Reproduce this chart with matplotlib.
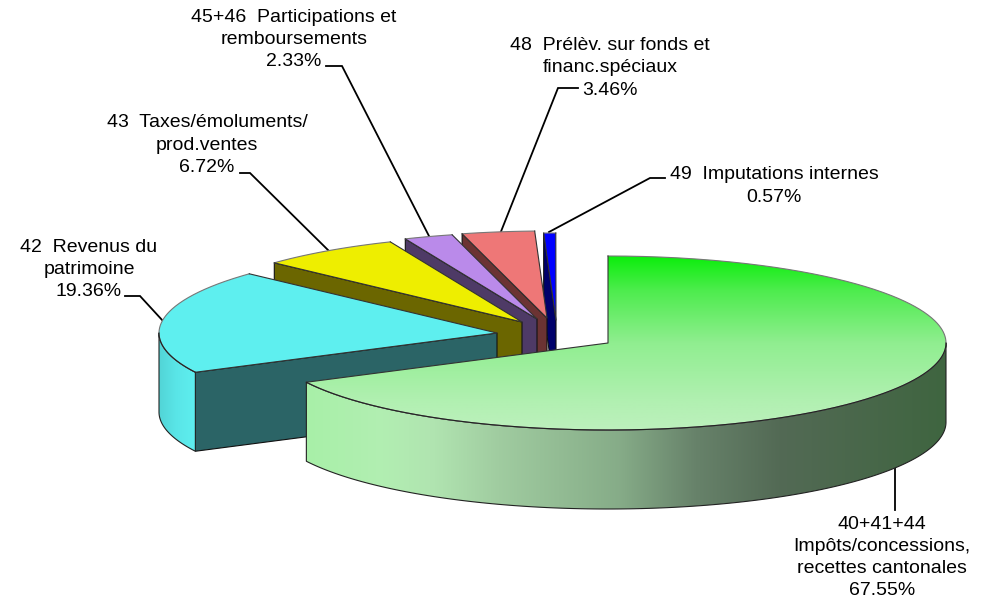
import numpy as np
import matplotlib
matplotlib.use('Agg')
import matplotlib.pyplot as plt
from matplotlib.colors import LinearSegmentedColormap
from matplotlib.patches import Polygon

plt.rcParams['font.family'] = ['Liberation Sans', 'DejaVu Sans']

# Chart data, clockwise from 12 o'clock
codes = ['40+41+44', '42', '43', '45+46', '48', '49']
shares = [67.55, 19.36, 6.72, 2.33, 3.46, 0.57]
labels = [
    '40+41+44\nImpôts/concessions,\nrecettes cantonales\n67.55%',
    '42  Revenus du\npatrimoine\n19.36%',
    '43  Taxes/émoluments/\nprod.ventes\n6.72%',
    '45+46  Participations et\nremboursements\n2.33%',
    '48  Prélèv. sur fonds et\nfinanc.spéciaux\n3.46%',
    '49  Imputations internes\n0.57%',
]
top_colors = ['#0CEE0C', '#5EEFEF', '#EEEE00', '#BA8AEA', '#EE7777', '#0000FF']
cut_colors = ['#4A6A4E', '#2B6466', '#6B6600', '#4E3A66', '#6B3333', '#00006B']

# Layout in reference pixels
apex_x = [608, 497, 522, 537, 547, 556]
apex_y = [343, 333, 322, 319, 318, 320]
label_x = [882, 89, 207, 294, 610, 774]
label_y = [557.5, 269.5, 145, 39.5, 68, 186]
leaders = [
    [(895, 467), (895, 510)],
    [(125, 296), (140, 296), (163, 321)],
    [(240, 173), (250, 173), (329, 251)],
    [(326, 66), (342, 66), (430, 238)],
    [(578, 88), (558, 88), (500, 234)],
    [(665, 178), (650, 178), (549, 232)],
]
RX, RY, DEPTH = 338, 87, 79

WIDTH, HEIGHT = 989, 604
fig = plt.figure(figsize=(WIDTH / 100, HEIGHT / 100), dpi=100)
ax = fig.add_axes([0, 0, 1, 1])


def arc(cx, cy, start, end):
    """Points of the ellipse rim between two clockwise angles (degrees from top)."""
    n = max(int(abs(end - start)) * 2, 2)
    a = np.radians(np.linspace(start, end, n))
    return np.column_stack([cx + RX * np.sin(a), cy - RY * np.cos(a)])


def gradient_fill(points, stops, horizontal, zorder):
    """Polygon filled with a linear gradient, drawn as a clipped image."""
    x0, y0 = points.min(axis=0)
    x1, y1 = points.max(axis=0)
    cmap = LinearSegmentedColormap.from_list('fill', stops)
    ramp = np.linspace(0, 1, 256)
    grid = ramp[None, :] if horizontal else ramp[:, None]
    im = ax.imshow(grid, cmap=cmap, vmin=0, vmax=1, aspect='auto', origin='upper',
                   extent=(x0, x1, y1, y0), zorder=zorder, interpolation='bilinear')
    clip = Polygon(points, closed=True, transform=ax.transData, fc='none', ec='none')
    ax.add_patch(clip)
    im.set_clip_path(clip)


def draw_slice(i, start, end, z):
    cx, cy = apex_x[i], apex_y[i]
    rim = arc(cx, cy, start, end)

    # Cut face on the left-hand side of the slice
    if start > 180:
        face = np.array([rim[0], (cx, cy), (cx, cy + DEPTH), rim[0] + (0, DEPTH)])
        ax.add_patch(Polygon(face, closed=True, fc=cut_colors[i], ec='#111111', lw=0.8, zorder=z))

    # Outer wall where the rim faces the viewer
    w0, w1 = max(start, 90), min(end, 270)
    if w1 > w0:
        wall_top = arc(cx, cy, w0, w1)
        wall = np.vstack([wall_top, (wall_top + (0, DEPTH))[::-1]])
        if i == 0:
            # gradient runs left to right across the x range of the wall
            stops = [(0, '#A8F0A8'), (0.12, '#B2EEB2'), (0.2, '#B0E4B0'), (0.3, '#A0CCA0'),
                     (0.49, '#86AC88'), (0.61, '#67826A'), (0.74, '#536A55'), (1, '#3F6540')]
        else:
            stops = [(0, '#52D4D6'), (0.5, '#5AE6E8'), (1, '#5EEFEF')]
        gradient_fill(wall, stops, True, z + 0.1)
        ax.add_patch(Polygon(wall, closed=True, fc='none', ec='#222222', lw=0.8, zorder=z + 0.2))

    # Top face
    top = np.vstack([[(cx, cy)], rim])
    if i == 0:
        gradient_fill(top, [(0, top_colors[0]), (0.2, '#4EEC4E'), (0.5, '#90EE90'),
                            (0.82, '#B0F0B0'), (1, '#BDF0BD')], False, z + 0.3)
    else:
        ax.add_patch(Polygon(top, closed=True, fc=top_colors[i], ec='none', zorder=z + 0.3))
    ax.plot(rim[:, 0], rim[:, 1], color='#777777', lw=0.8, zorder=z + 0.4)
    if w1 > w0:
        front = arc(cx, cy, w0, w1)
        ax.plot(front[:, 0], front[:, 1], color='#222222', lw=0.8, zorder=z + 0.45)
    ax.plot([rim[0, 0], cx, rim[-1, 0]], [rim[0, 1], cy, rim[-1, 1]],
            color='#333333', lw=0.8, zorder=z + 0.4)


# Angles come straight from the shares
edges = np.concatenate([[0], np.cumsum(shares)]) * 3.6

# Painter's order: the back slices first, the green one last
order = [5, 4, 3, 2, 1, 0]
for z, i in enumerate(order):
    draw_slice(i, edges[i], edges[i + 1], 2 + z)

for i in range(len(codes)):
    xs, ys = zip(*leaders[i])
    ax.plot(xs, ys, color='black', lw=1.3, zorder=1, solid_joinstyle='miter')
    ax.text(label_x[i], label_y[i], labels[i], ha='center', va='center', ma='center',
            fontsize=14, color='black', linespacing=1.39, zorder=20)

ax.set_xlim(0, WIDTH)
ax.set_ylim(HEIGHT, 0)
ax.axis('off')

fig.savefig('out.png', dpi=100, facecolor='white')
plt.close(fig)
